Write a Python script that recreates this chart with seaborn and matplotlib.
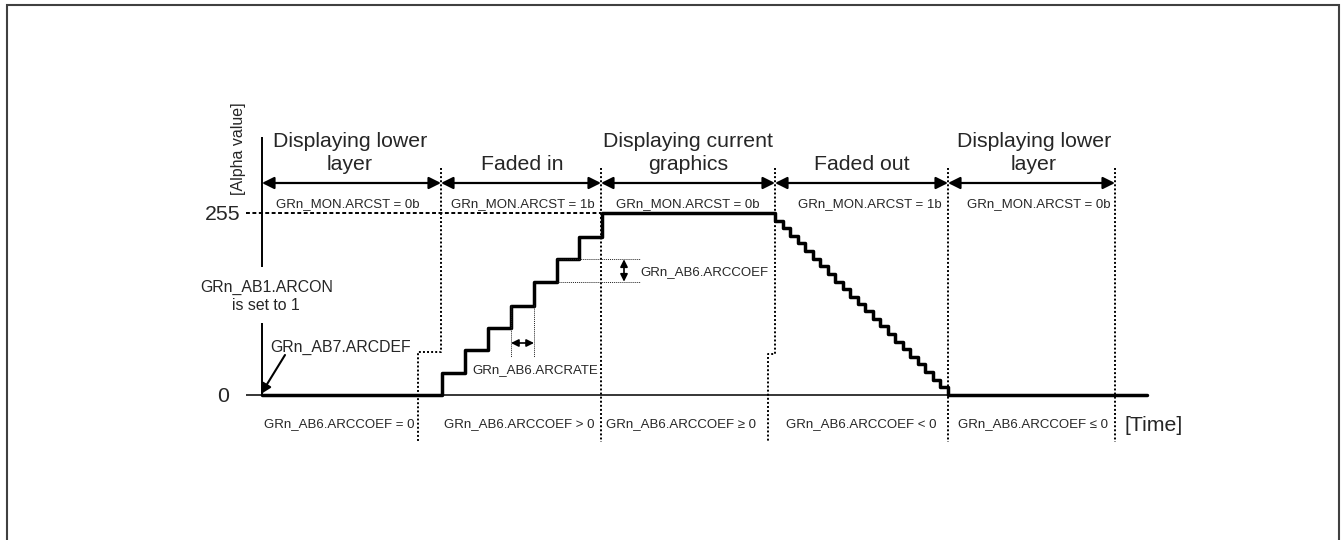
import matplotlib
matplotlib.use('Agg')
import matplotlib.pyplot as plt
import seaborn as sns
import pandas as pd
from matplotlib.patches import Rectangle

sns.set_theme(style='white')
plt.rcParams['font.family'] = ['Liberation Sans', 'DejaVu Sans']

# ---------------- data ----------------
# time (arbitrary units) and alpha value of the blend curve (step function)
time_points = [0, 180, 203, 226, 249, 272, 295, 317, 340,
               513, 521, 528, 536, 543, 551, 558, 566, 573, 581, 588, 596,
               603, 611, 618, 626, 633, 641, 648, 656, 663, 671, 678, 686,
               885]
alpha_values = [0, 31, 63, 94, 125, 158, 190, 221, 255,
                244, 234, 223, 213, 202, 191, 181, 170, 159, 149, 138, 128,
                117, 106, 96, 85, 74, 64, 53, 43, 32, 21, 11, 0,
                0]

phase_bounds = [0, 179, 339, 513, 686, 853]
phase_titles = [["Displaying lower", "layer"], ["Faded in"],
                ["Displaying current", "graphics"], ["Faded out"],
                ["Displaying lower", "layer"]]
status_labels = ["GRn_MON.ARCST = 0b", "GRn_MON.ARCST = 1b", "GRn_MON.ARCST = 0b",
                 "GRn_MON.ARCST = 1b", "GRn_MON.ARCST = 0b"]
coef_labels = ["GRn_AB6.ARCCOEF = 0", "GRn_AB6.ARCCOEF > 0", "GRn_AB6.ARCCOEF \u2265 0",
               "GRn_AB6.ARCCOEF < 0", "GRn_AB6.ARCCOEF \u2264 0"]
alpha_ticks = [0, 255]
alpha_tick_labels = ["0", "255"]

df = pd.DataFrame({"time": time_points, "alpha": alpha_values})

# ---------------- layout helpers (pixel -> data) ----------------
W, H = 1341, 540
X0, Y0, YS = 262.0, 395.0, 182.0 / 255.0


def X(px):
    return px - X0


def Y(py):
    return (Y0 - py) / YS


fig = plt.figure(figsize=(W / 100, H / 100), dpi=100)
fig.patch.set_facecolor('white')
ax = fig.add_axes([0, 0, 1, 1])
ax.set_xlim(X(0), X(W))
ax.set_ylim(Y(H), Y(0))
ax.set_axis_off()

# frame
fig.patches.append(Rectangle((6.5 / W, -0.02), (1338.5 - 6.5) / W, 1 - 5 / H + 0.02,
                             transform=fig.transFigure, fill=False,
                             edgecolor='#404040', lw=1.5))

# axes lines
ax.plot([X(246), X(1147)], [0, 0], color='black', lw=1.1, solid_capstyle='butt')
ax.plot([0, 0], [Y(137), Y(267)], color='black', lw=1.4, solid_capstyle='butt')
ax.plot([0, 0], [Y(323), 0], color='black', lw=1.4, solid_capstyle='butt')

# 255 dashed line
ax.plot([X(246), phase_bounds[2]], [255, 255], color='black', lw=1.4,
        linestyle=(0, (2.0, 1.3)))

# phase boundaries (dotted)
dot = (0, (1.0, 1.1))
top, bot = Y(168), Y(442)
for i, t in enumerate(phase_bounds[1:], start=1):
    if i == 1:
        jy = Y(352)
        ax.plot([t, t, X(418), X(418)], [top, jy, jy, bot], color='black', lw=1.4, linestyle=dot)
    elif i == 3:
        jy = Y(354)
        ax.plot([t, t, X(768), X(768)], [top, jy, jy, bot], color='black', lw=1.4, linestyle=dot)
    else:
        ax.plot([t, t], [top, bot], color='black', lw=1.4, linestyle=dot)

# step curve
sns.lineplot(data=df, x="time", y="alpha", drawstyle='steps-post', estimator=None,
             sort=False, color='black', lw=2.5, ax=ax, legend=False)
ax.set_axis_off()
ax.set_xlim(X(0), X(W))
ax.set_ylim(Y(H), Y(0))

# phase arrows
arr_y = Y(183)
for a, b in zip(phase_bounds[:-1], phase_bounds[1:]):
    ax.annotate('', xy=(b, arr_y), xytext=(a, arr_y),
                arrowprops=dict(arrowstyle='<|-|>', color='black', lw=1.6,
                                mutation_scale=18, shrinkA=0, shrinkB=0))

# phase titles and labels
big, small, mid = 15.3, 9.5, 11.4
title_cx = [350, 522, 688, 862, 1034]
status_cx = [348, 523, 687.5, 870, 1038.5]
coef_cx = [339, 519, 681.5, 861, 1033]
for cx, lines in zip(title_cx, phase_titles):
    if len(lines) == 2:
        ax.text(X(cx), Y(146.7), lines[0], ha='center', va='baseline', fontsize=big)
        ax.text(X(cx), Y(170.5), lines[1], ha='center', va='baseline', fontsize=big)
    else:
        ax.text(X(cx), Y(170.5), lines[0], ha='center', va='baseline', fontsize=big)
for cx, s in zip(status_cx, status_labels):
    ax.text(X(cx), Y(207.5), s, ha='center', va='baseline', fontsize=small)
for cx, s in zip(coef_cx, coef_labels):
    ax.text(X(cx), Y(427), s, ha='center', va='baseline', fontsize=small)

# axis labels
ax.text(X(240.5), Y(220), alpha_tick_labels[1], ha='right', va='baseline', fontsize=big)
ax.text(X(229), Y(401.7), alpha_tick_labels[0], ha='right', va='baseline', fontsize=big)
ax.text(X(1124), Y(431), "[Time]", ha='left', va='baseline', fontsize=big)
ax.text(X(239), Y(149), "[Alpha value]", ha='center', va='center', rotation=90, fontsize=11.5)

# ARCON note
ax.text(X(267), Y(291.7), "GRn_AB1.ARCON", ha='center', va='baseline', fontsize=mid)
ax.text(X(266), Y(310), "is set to 1", ha='center', va='baseline', fontsize=mid)

# ARCDEF
ax.text(X(270), Y(351.7), "GRn_AB7.ARCDEF", ha='left', va='baseline', fontsize=mid)
ax.annotate('', xy=(X(261), Y(394)), xytext=(X(285), Y(355)),
            arrowprops=dict(arrowstyle='-|>', color='black', lw=1.5,
                            mutation_scale=15, shrinkA=0, shrinkB=0))

# ARCRATE
thin = (0, (1, 1))
for xp in [511, 534]:
    ax.plot([X(xp), X(xp)], [Y(305), Y(357)], color='#222222', lw=0.7, linestyle=thin)
ax.annotate('', xy=(X(534), Y(343)), xytext=(X(511), Y(343)),
            arrowprops=dict(arrowstyle='<|-|>', color='black', lw=1.2,
                            mutation_scale=11, shrinkA=0, shrinkB=0))
ax.text(X(472), Y(373.3), "GRn_AB6.ARCRATE", ha='left', va='baseline', fontsize=small)

# ARCCOEF
for yp in [259.3, 281.7]:
    ax.plot([X(557), X(640)], [Y(yp), Y(yp)], color='#222222', lw=0.7, linestyle=thin)
ax.annotate('', xy=(X(624), Y(281.7)), xytext=(X(624), Y(259.3)),
            arrowprops=dict(arrowstyle='<|-|>', color='black', lw=1.2,
                            mutation_scale=11, shrinkA=0, shrinkB=0))
ax.text(X(640), Y(275), "GRn_AB6.ARCCOEF", ha='left', va='baseline', fontsize=small)

fig.savefig('out.png', dpi=100, facecolor='white')
